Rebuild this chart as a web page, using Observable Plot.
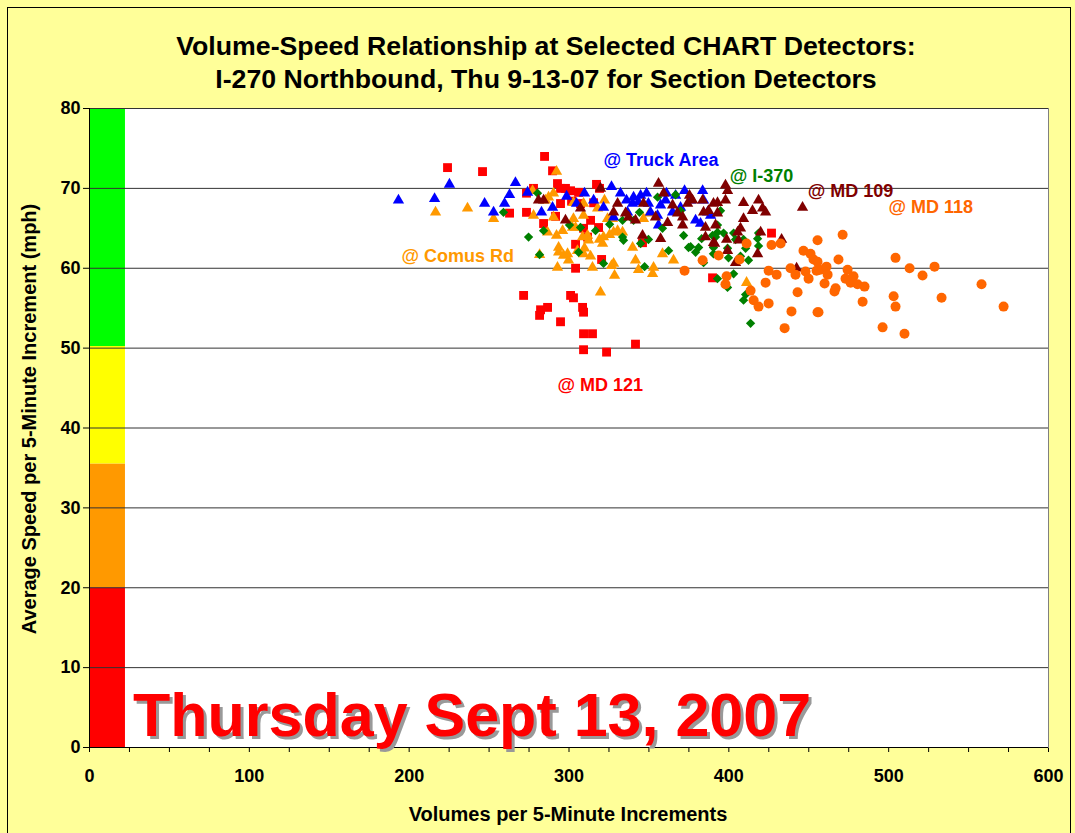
<!DOCTYPE html>
<html>
<head>
<meta charset="utf-8">
<script src="https://cdn.jsdelivr.net/npm/d3@7"></script>
<script src="https://cdn.jsdelivr.net/npm/@observablehq/plot@0.6"></script>
<style>
html,body{margin:0;padding:0;background:#FFFF99;}
#wrap{position:relative;width:1075px;height:833px;background:#FFFF99;overflow:hidden;font-family:"Liberation Sans",Arial,sans-serif;color:#000;}
#border{position:absolute;left:7px;top:7px;width:1064px;height:900px;border:1px solid #000;box-sizing:border-box;}
#chart{position:absolute;left:0;top:0;}
#title{position:absolute;left:46px;width:1000px;top:30px;text-align:center;font-weight:bold;font-size:26.7px;line-height:33px;}
#xtitle{position:absolute;left:68px;width:1000px;top:804px;text-align:center;font-weight:bold;font-size:20px;line-height:20px;}
#ytitle{position:absolute;left:-271px;top:408px;width:600px;height:22px;line-height:22px;text-align:center;font-weight:bold;font-size:20px;transform:rotate(-90deg);transform-origin:50% 50%;}
#big{position:absolute;left:133px;top:685px;font-size:61px;line-height:61px;font-weight:bold;color:#FF0000;text-shadow:3px 3px 0 #999999;white-space:nowrap;}
</style>
</head>
<body>
<div id="wrap">
  <div id="border"></div>
  <div id="chart"></div>
  <div id="title">Volume-Speed Relationship at Selected CHART Detectors:<br>I-270 Northbound, Thu 9-13-07 for Section Detectors</div>
  <div id="xtitle">Volumes per 5-Minute Increments</div>
  <div id="ytitle">Average Speed per 5-Minute Increment (mph)</div>
  <div id="big">Thursday Sept 13, 2007</div>
</div>
<script>
// ---- Data: [volume per 5 min, average speed mph] ----
const truckArea = [[193.3,68.5],[215.9,68.7],[225.2,70.5],[247.2,68.1],[252.8,67.0],[259.7,68.1],[262.8,69.2],[266.5,70.7],[274.1,69.5],[282.8,67.0],[289.7,67.6],[298.5,69.0],[304.7,68.1],[309.7,69.4],[315.4,68.5],[321.6,67.6],[326.6,70.2],[327.9,66.4],[332.2,69.4],[336.0,68.5],[336.6,67.0],[339.8,68.1],[340.4,68.9],[343.5,68.3],[344.8,69.1],[348.5,69.4],[349.7,68.1],[351.0,67.0],[355.4,66.6],[356.0,65.4],[357.3,67.9],[360.4,68.5],[361.0,69.4],[364.8,67.0],[366.7,69.1],[369.8,67.6],[372.3,69.7],[376.1,68.5],[379.2,66.0],[382.3,65.6],[383.6,69.7],[384.2,68.5],[386.7,67.0],[388.6,66.6]];

const i370 = [[259.0,67.0],[274.7,63.9],[280.3,69.4],[281.6,61.7],[284.1,64.7],[300.3,65.4],[306.0,62.0],[307.2,65.1],[316.6,64.7],[321.6,60.6],[325.4,65.5],[333.5,66.0],[333.5,63.9],[334.1,63.5],[340.4,66.0],[344.1,67.0],[344.8,63.1],[347.3,60.2],[349.7,63.6],[355.4,68.9],[358.5,65.0],[362.3,62.2],[366.7,69.2],[369.8,67.2],[371.7,64.1],[374.8,62.6],[376.1,62.7],[379.2,62.0],[381.1,62.6],[383.0,63.7],[384.2,60.7],[389.8,64.1],[390.4,61.8],[390.4,62.6],[391.7,63.9],[392.9,58.7],[392.9,64.5],[392.9,65.4],[394.8,67.2],[396.7,64.4],[399.2,62.5],[399.2,57.6],[399.8,61.3],[403.0,64.4],[403.0,59.3],[404.2,63.6],[407.3,61.5],[409.2,63.6],[409.2,56.0],[410.5,62.5],[410.5,56.7],[412.3,61.0],[413.6,53.1],[418.0,63.7],[418.6,62.8],[418.6,64.4]];

const md109 = [[280.9,68.5],[284.1,68.5],[297.8,66.0],[307.2,67.5],[319.7,70.0],[327.9,67.0],[330.4,68.1],[335.4,66.9],[337.3,66.4],[341.6,66.0],[346.6,68.1],[346.0,64.1],[354.1,66.4],[356.0,70.6],[357.3,63.7],[359.2,69.4],[361.7,65.7],[364.8,67.9],[367.9,66.9],[371.1,66.4],[371.1,65.4],[374.2,68.1],[375.4,69.1],[377.3,68.5],[383.6,68.5],[384.2,67.0],[385.4,65.1],[385.4,63.9],[387.3,67.2],[390.4,68.1],[390.4,63.2],[391.1,63.1],[391.7,65.4],[392.9,66.9],[392.9,68.2],[397.9,70.4],[397.9,68.5],[398.6,63.6],[399.2,69.7],[399.2,62.2],[404.2,60.7],[405.5,64.5],[406.1,63.5],[407.3,65.0],[409.2,68.2],[409.2,66.2],[414.8,67.2],[418.0,61.8],[418.6,68.5],[419.9,64.5],[421.1,67.5],[423.0,67.0],[433.0,63.6],[442.4,60.0],[446.1,67.6]];

const md118 = [[372.3,59.7],[383.6,61.0],[393.6,61.6],[397.9,58.0],[398.6,59.0],[406.7,61.1],[411.1,63.1],[413.6,57.2],[415.5,56.0],[418.6,55.2],[423.0,58.2],[424.9,59.7],[424.9,55.6],[426.7,62.9],[429.9,59.2],[432.4,63.1],[434.9,52.5],[438.6,60.0],[439.2,54.6],[441.7,59.2],[443.0,57.0],[446.7,62.2],[448.0,59.6],[449.9,58.7],[451.1,61.8],[453.0,61.1],[454.9,59.7],[455.5,63.5],[455.5,60.8],[455.5,54.5],[456.1,54.5],[456.8,59.8],[459.9,58.1],[461.1,60.2],[461.8,59.2],[466.1,57.1],[466.8,57.5],[468.6,61.1],[471.2,64.2],[473.0,58.7],[474.3,59.8],[476.2,58.2],[478.0,59.0],[480.5,58.0],[483.7,55.8],[484.9,57.7],[496.2,52.6],[503.1,56.5],[504.3,61.3],[504.3,55.2],[509.9,51.8],[513.1,60.0],[521.2,59.1],[528.7,60.2],[533.1,56.3],[558.1,58.0],[571.9,55.2]];

const comusRd = [[216.5,67.0],[236.5,67.5],[252.8,66.2],[277.2,69.7],[277.8,66.6],[281.6,61.7],[285.3,68.5],[286.6,64.5],[287.2,68.9],[290.3,69.4],[290.3,66.4],[292.2,72.1],[292.2,64.1],[292.8,60.1],[293.5,62.6],[293.5,62.0],[296.0,64.7],[296.6,61.6],[299.1,61.8],[299.7,61.0],[302.2,65.1],[302.8,68.2],[302.8,66.2],[304.1,65.1],[305.3,62.2],[308.5,63.9],[309.1,68.1],[309.1,66.6],[309.1,61.8],[309.7,62.5],[311.6,64.1],[312.2,63.5],[313.5,61.5],[314.7,60.1],[317.9,67.5],[319.1,63.6],[319.7,57.0],[321.0,63.1],[321.6,63.9],[322.2,68.5],[324.1,66.2],[325.4,64.2],[326.6,60.3],[327.2,66.2],[327.9,64.5],[327.9,60.6],[328.5,59.1],[330.4,64.7],[333.5,64.5],[339.8,62.6],[341.6,61.0],[343.5,59.8],[346.6,66.2],[350.4,66.9],[352.3,59.3],[352.9,60.1],[358.5,61.8],[365.4,61.0],[411.1,58.2]];

const md121 = [[224.0,72.6],[245.9,72.1],[262.8,66.9],[271.6,56.6],[273.4,67.0],[273.4,69.4],[277.8,70.0],[281.6,54.1],[282.2,54.8],[284.1,65.6],[284.7,74.0],[286.6,55.1],[289.7,72.2],[291.6,66.5],[292.8,70.6],[294.7,70.0],[294.7,68.1],[294.7,53.3],[297.8,70.0],[301.0,69.7],[301.0,56.6],[301.6,68.4],[302.8,56.3],[304.1,63.0],[304.1,60.0],[306.0,69.5],[307.2,68.1],[308.5,55.1],[309.1,65.0],[309.1,54.5],[309.1,51.8],[309.1,49.8],[311.6,63.9],[313.5,66.0],[314.7,51.8],[315.4,68.2],[317.2,70.5],[318.5,65.1],[319.1,70.0],[320.4,61.1],[323.5,49.5],[341.6,50.5],[346.0,63.2],[389.8,58.8],[426.7,64.4]];

// speed bands (mph) drawn beside the speed axis
const bandLow = [0, 20, 35.5, 50.2];
const bandHigh = [20, 35.5, 50.2, 80];
const bandColors = ["#FF0000", "#FF9900", "#FFFF00", "#00FF00"];
const bandVolumeWidth = 22.5;

// axis ticks
const xTicks = d3.range(0, 601, 25);
const yTicks = [0, 10, 20, 30, 40, 50, 60, 70, 80];
const gridY = [10, 20, 30, 40, 50, 60, 70, 80];

// series labels
const labelText = ["@ Truck Area", "@ I-370", "@ MD 109", "@ MD 118", "@ Comus Rd", "@ MD 121"];
const labelX = [321.6, 400.5, 449.3, 499.9, 195.2, 292.8];
const labelY = [73.5, 71.5, 69.6, 67.6, 61.5, 45.3];
const labelColors = ["#0000FF", "#008000", "#800000", "#FF6600", "#FF9900", "#FF0000"];

const bands = bandLow.map((lo, i) => ({lo, hi: bandHigh[i], color: bandColors[i]}));
const labels = labelText.map((t, i) => ({t, x: labelX[i], y: labelY[i], c: labelColors[i]}));

const series = [
  {data: md121, symbol: "square", color: "#FF0000", r: 5},
  {data: comusRd, symbol: "triangle", color: "#FF9900", r: 4.2},
  {data: truckArea, symbol: "triangle", color: "#0000FF", r: 4.2},
  {data: i370, symbol: "diamond2", color: "#008000", r: 4.2},
  {data: md109, symbol: "triangle", color: "#800000", r: 4.2},
  {data: md118, symbol: "circle", color: "#FF6600", r: 5}
];

const plot = Plot.plot({
  width: 1075,
  height: 833,
  marginLeft: 89,
  marginRight: 27,
  marginTop: 108,
  marginBottom: 86,
  style: {background: "transparent", fontFamily: "'Liberation Sans', Arial, sans-serif", fontSize: "18px", fontWeight: "bold", color: "#000", overflow: "visible"},
  color: {type: "identity"},
  x: {domain: [0, 600], ticks: xTicks, tickFormat: d => d % 100 === 0 ? String(d) : "", tickSize: 5, tickPadding: 17, label: null},
  y: {domain: [0, 80], ticks: yTicks, tickSize: 6, tickPadding: 3, label: null},
  marks: [
    Plot.frame({fill: "white", stroke: "#808080"}),
    Plot.rect(bands, {x1: () => 0, x2: () => bandVolumeWidth, y1: "lo", y2: "hi", fill: "color"}),
    Plot.ruleY(gridY, {stroke: "#333333", strokeWidth: 1}),
    Plot.ruleX([0], {stroke: "#000"}),
    Plot.ruleY([0], {stroke: "#000"}),
    ...series.map(s => Plot.dot(s.data, {x: d => d[0], y: d => d[1], symbol: s.symbol, fill: s.color, stroke: "none", r: s.r})),
    Plot.text(labels, {x: "x", y: "y", text: "t", fill: "c", textAnchor: "start", fontSize: 18, fontWeight: "bold"})
  ]
});
document.getElementById("chart").appendChild(plot);
</script>
</body>
</html>
